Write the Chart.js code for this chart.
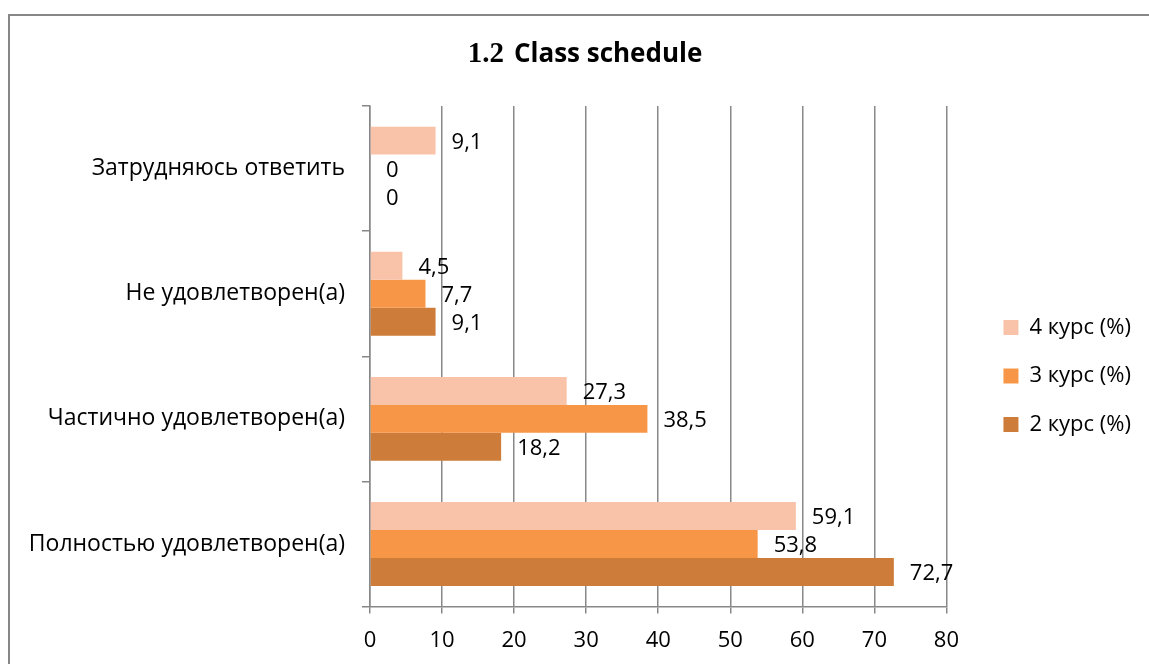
<!DOCTYPE html>
<html>
<head>
<meta charset="utf-8">
<script src="https://cdn.jsdelivr.net/npm/chart.js@4"></script>
<style>
  body { margin: 0; background: #fff; overflow: hidden; }
  #wrap { position: relative; width: 1149px; height: 664px; }
  #frame { position: absolute; left: 8px; top: 14px; right: 0; bottom: 0;
           border-left: 2px solid #878787; border-top: 2px solid #878787; pointer-events: none; }
  #title { position: absolute; left: 0; width: 1170px; top: 34px; text-align: center;
           font-weight: bold; color: #000; white-space: nowrap; }
  #title .num { font-family: "Liberation Serif", serif; font-size: 29px; }
  #title .txt { font-family: "Open Sans", sans-serif; font-size: 26px; margin-left: 6px; }
</style>
</head>
<body>
<div id="wrap">
  <canvas id="scheduleChart"></canvas>
  <div id="frame"></div>
  <div id="title"><span class="num">1.2</span> <span class="txt">Class schedule</span></div>
</div>
<script>
// Answers (top to bottom)
const categories = ['Затрудняюсь ответить', 'Не удовлетворен(а)', 'Частично удовлетворен(а)', 'Полностью удовлетворен(а)'];
const seriesNames = ['4 курс (%)', '3 курс (%)', '2 курс (%)'];
const course4 = [9.1, 4.5, 27.3, 59.1];
const course3 = [0, 7.7, 38.5, 53.8];
const course2 = [0, 9.1, 18.2, 72.7];
const xTicks = [0, 10, 20, 30, 40, 50, 60, 70, 80];

const colors = ['#F9C3A9', '#F79646', '#CD7C3A'];
const gridColor = '#888888';
const fontFamily = '"Open Sans", sans-serif';
const fontSize = 22;

// Value labels to the right of each bar, comma as decimal mark
const valueLabels = {
  id: 'valueLabels',
  afterDatasetsDraw(chart) {
    const ctx = chart.ctx;
    ctx.save();
    ctx.font = fontSize + 'px ' + fontFamily;
    ctx.fillStyle = '#000';
    ctx.textAlign = 'left';
    ctx.textBaseline = 'middle';
    chart.data.datasets.forEach((ds, i) => {
      const meta = chart.getDatasetMeta(i);
      meta.data.forEach((bar, j) => {
        const text = String(ds.data[j]).replace('.', ',');
        ctx.fillText(text, bar.x + 16, bar.y + 2);
      });
    });
    ctx.restore();
  }
};

// invisible axis used only to reserve space
const spacer = (axis, position, size) => ({
  axis,
  position,
  display: true,
  afterFit: scale => {
    if (axis === 'x') scale.height = size; else scale.width = size;
  },
  grid: { display: false },
  border: { display: false },
  ticks: { display: false }
});

new Chart(document.getElementById('scheduleChart'), {
  type: 'bar',
  data: {
    labels: categories,
    datasets: [course4, course3, course2].map((values, i) => ({
      label: seriesNames[i],
      data: values,
      backgroundColor: colors[i],
      borderWidth: 0,
      categoryPercentage: 0.67,
      barPercentage: 1
    }))
  },
  options: {
    indexAxis: 'y',
    responsive: true,
    maintainAspectRatio: false,
    animation: false,
    layout: {
      padding: { left: 10, top: 84, right: 8, bottom: -4 }
    },
    plugins: {
      title: { display: false },
      tooltip: { enabled: false },
      legend: {
        position: 'right',
        labels: {
          boxWidth: 15,
          boxHeight: 15,
          padding: 26.5,
          color: '#000',
          font: { family: fontFamily, size: fontSize }
        }
      }
    },
    scales: {
      x: {
        min: 0,
        max: 80,
        afterBuildTicks: scale => { scale.ticks = xTicks.map(v => ({ value: v })); },
        grid: { color: gridColor, lineWidth: 1.5, tickLength: 7 },
        border: { color: gridColor, width: 1.5 },
        ticks: { color: '#000', padding: 14, font: { family: fontFamily, size: fontSize } }
      },
      y: {
        afterFit: scale => { scale.width = 360; },
        grid: { drawOnChartArea: false, color: gridColor, lineWidth: 1.5, tickLength: 8 },
        border: { color: gridColor, width: 1.5 },
        ticks: { color: '#000', padding: 17, font: { family: fontFamily, size: 23 } }
      },
      gapTop: spacer('x', 'top', 22),
      gapRight: spacer('y', 'right', 30.5)
    }
  },
  plugins: [valueLabels]
});
</script>
</body>
</html>
